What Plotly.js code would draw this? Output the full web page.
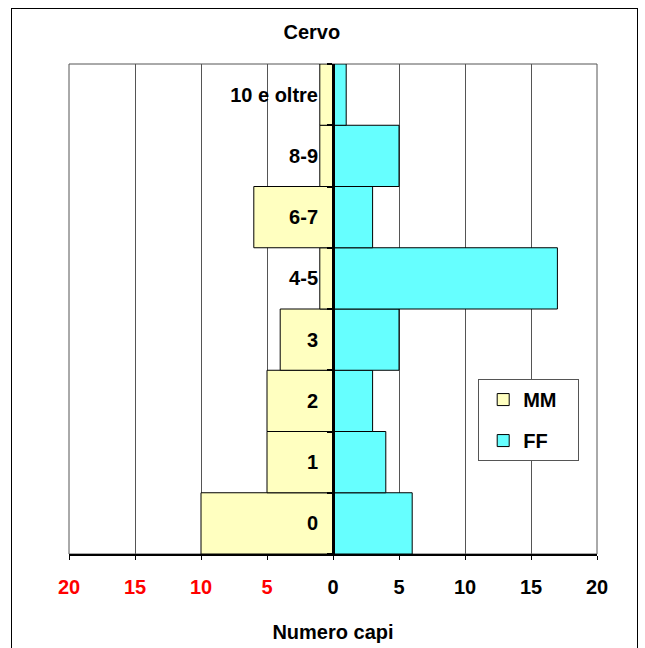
<!DOCTYPE html>
<html><head><meta charset="utf-8">
<script src="https://cdn.plot.ly/plotly-3.0.1.min.js"></script>
<style>
body{margin:0;padding:0;background:#fff;}
#frame{position:absolute;left:11px;top:8px;width:625px;height:700px;border:1.5px solid #000;pointer-events:none;}
#chart{position:absolute;left:0;top:0;width:645px;height:648px;}
</style></head>
<body>
<div id="chart"></div>
<div id="frame"></div>
<script>
var categories = ['0','1','2','3','4-5','6-7','8-9','10 e oltre'];
var maschi = [10,5,5,4,1,6,1,1];
var femmine = [6,4,3,5,17,3,5,1];
var seriesNames = ['MM','FF'];
var tickValues = [-20,-15,-10,-5,0,5,10,15,20];
var tickLabels = ['20','15','10','5','0','5','10','15','20'];

var FONT = 'Liberation Sans, Arial, sans-serif';
var PAD = '\u00a0\u00a0\u00a0';
var ticktext = tickValues.map(function(v,i){
  return v < 0 ? '<span style="color:#ff0000">'+tickLabels[i]+'</span>' : tickLabels[i];
});

var traces = [
  {type:'bar', orientation:'h', name:seriesNames[0]+PAD, y:categories, x:maschi.map(function(v){return -v;}),
   marker:{color:'#FFFFC0', line:{color:'#000', width:1}}, legendgroup:'a', hoverinfo:'skip'},
  {type:'bar', orientation:'h', name:seriesNames[1], y:categories, x:femmine,
   marker:{color:'#66FFFF', line:{color:'#000', width:1}}, legendgroup:'b', hoverinfo:'skip'}
];

var layout = {
  width:645, height:648,
  margin:{l:69, r:48, t:64, b:94},
  paper_bgcolor:'#fff', plot_bgcolor:'#fff',
  font:{family:FONT, size:20, color:'#000', weight:'bold'},
  title:{text:'Cervo', font:{family:FONT, size:20, weight:'bold', color:'#000'}, xref:'paper', x:0.46, xanchor:'center', y:0.95, yanchor:'middle'},
  barmode:'relative', bargap:0,
  showlegend:true,
  legend:{x:0.775, y:0.357, xanchor:'left', yanchor:'top', bgcolor:'#fff', bordercolor:'#555', borderwidth:1,
    font:{family:FONT, size:20, weight:'bold'}, tracegroupgap:12, traceorder:'grouped', itemwidth:30, indentation:4},
  xaxis:{range:[-20,20], tickvals:tickValues, ticktext:ticktext, showgrid:true, gridcolor:'#555', gridwidth:1,
    zeroline:false, showline:true, linecolor:'#000', linewidth:1.5, ticks:'outside', ticklen:4, tickcolor:'#000',
    ticklabelstandoff:10, tickfont:{family:FONT, size:20, weight:'bold'},
    title:{text:'Numero capi', font:{family:FONT, size:20, weight:'bold'}, standoff:28}, fixedrange:true},
  yaxis:{type:'category', categoryorder:'array', categoryarray:categories, anchor:'free', position:0.5,
    showline:true, linecolor:'#000', linewidth:3, ticks:'outside', ticklen:5, tickwidth:2, tickcolor:'#000',
    tickson:'boundaries', showgrid:false, zeroline:false, tickfont:{family:FONT, size:20, weight:'bold'},
    ticklabelstandoff:10, fixedrange:true},
  shapes:[{type:'rect', xref:'paper', yref:'paper', x0:0, x1:1, y0:0, y1:1, line:{color:'#555', width:1}, layer:'below'}]
};

Plotly.newPlot('chart', traces, layout, {displayModeBar:false, staticPlot:true});
</script>
</body></html>
